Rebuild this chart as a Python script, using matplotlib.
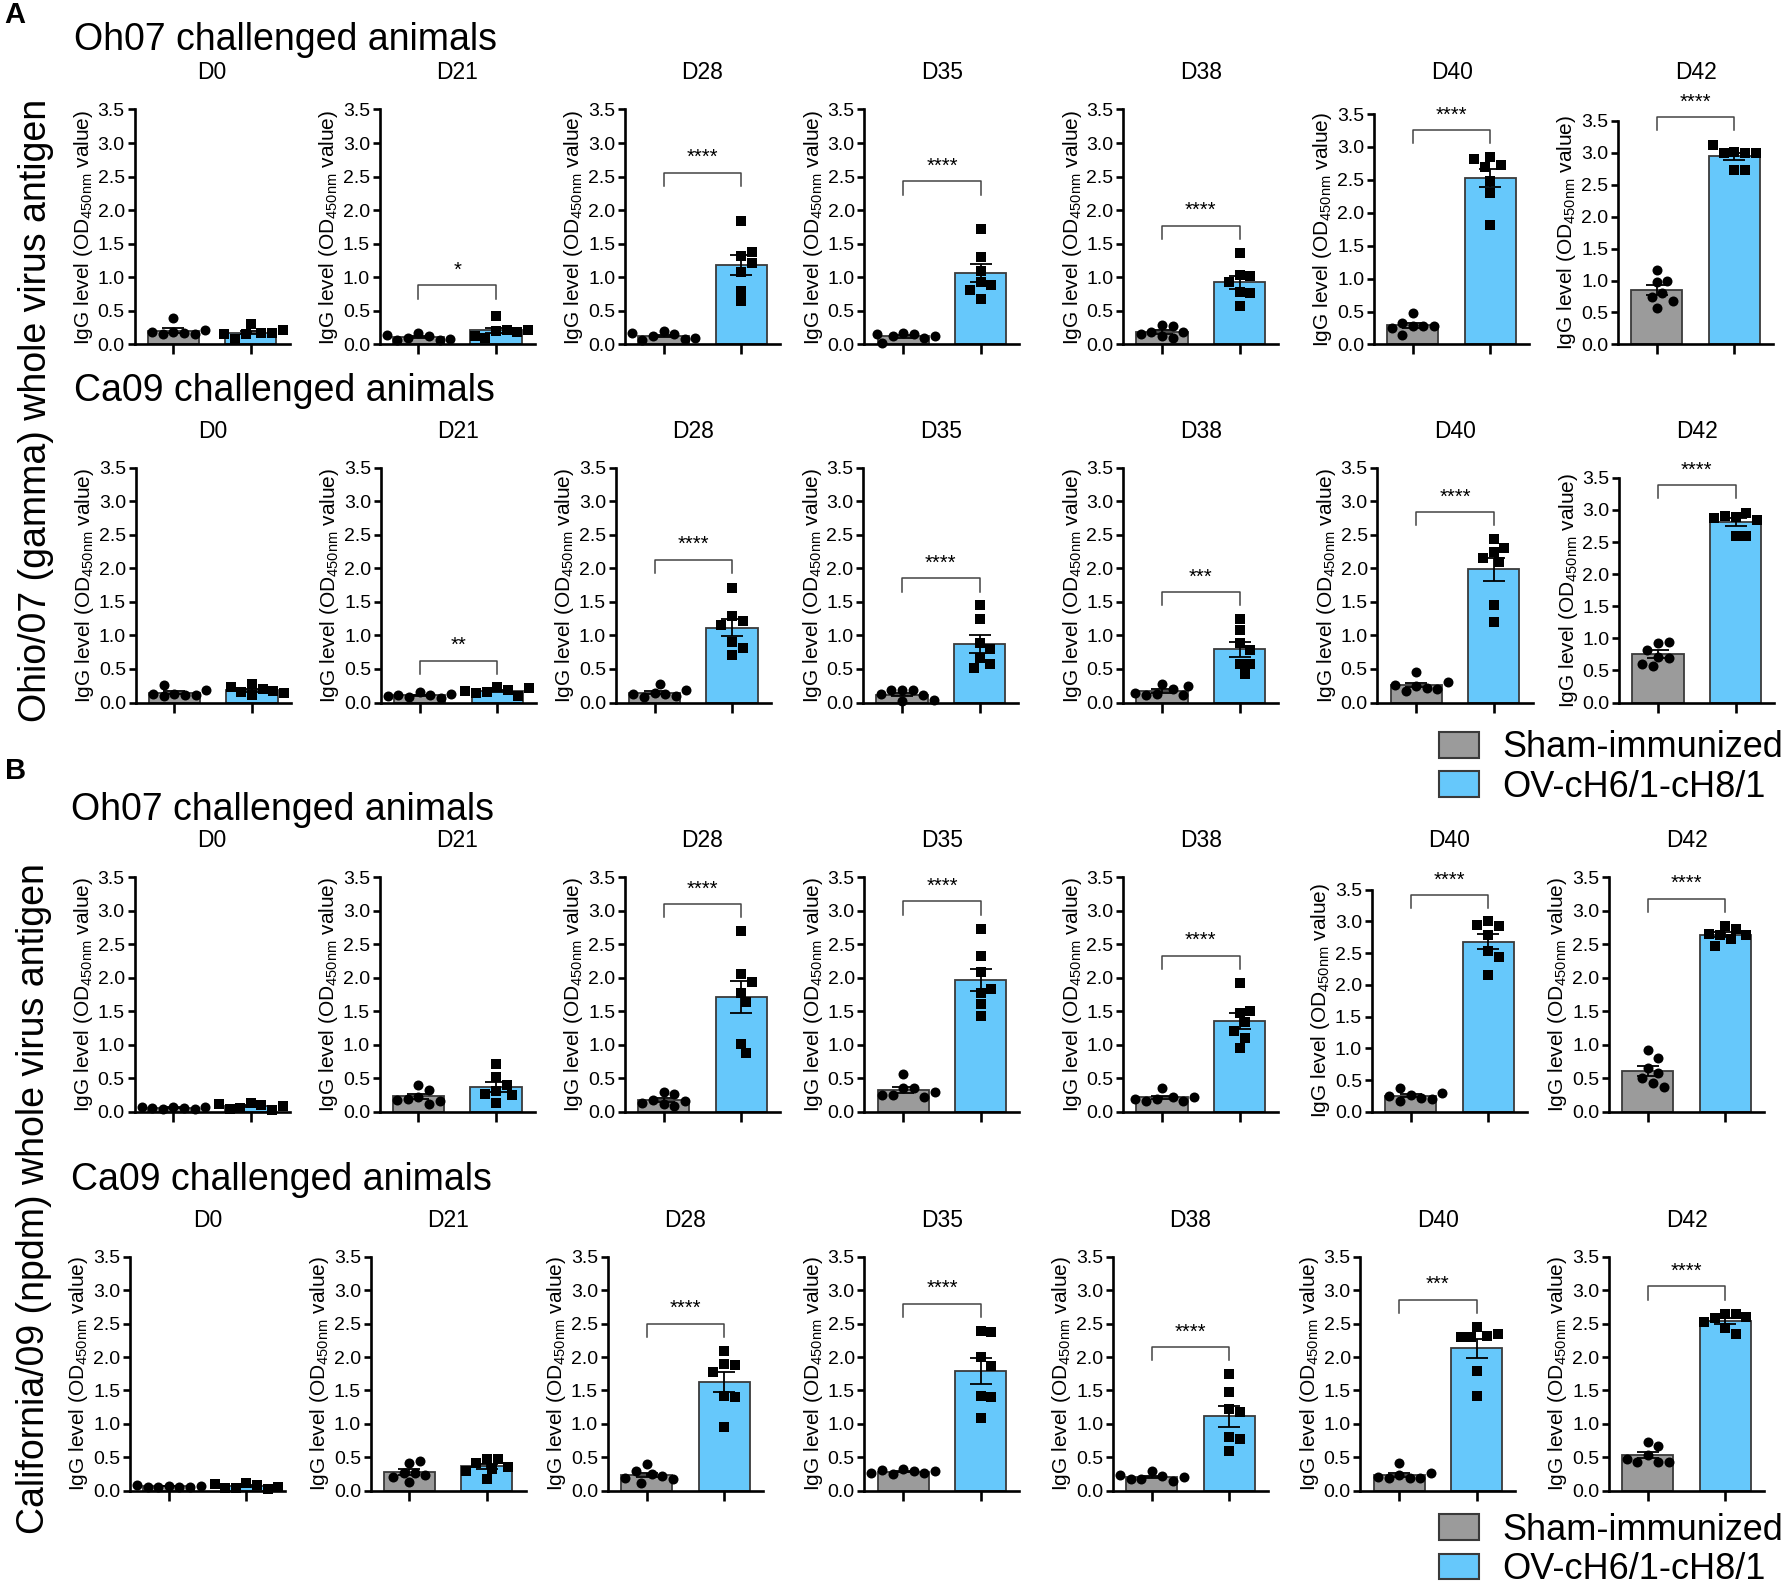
import numpy as np
import matplotlib
matplotlib.use('Agg')
import matplotlib.pyplot as plt
from matplotlib.patches import Patch

plt.rcParams['font.family'] = ['Liberation Sans', 'DejaVu Sans']
plt.rcParams['mathtext.fontset'] = 'custom'
plt.rcParams['mathtext.rm'] = 'Liberation Sans'
plt.rcParams['mathtext.default'] = 'regular'

days = ['D0', 'D21', 'D28', 'D35', 'D38', 'D40', 'D42']
groups = ['Sham-immunized', 'OV-cH6/1-cH8/1']
row_titles = ['Oh07 challenged animals', 'Ca09 challenged animals',
              'Oh07 challenged animals', 'Ca09 challenged animals']
antigen_labels = ['Ohio/07 (gamma) whole virus antigen',
                  'California/09 (npdm) whole virus antigen']

# A: Ohio/07 antigen, Oh07 challenged
a_oh07_sham = [[0.19, 0.17, 0.15, 0.40, 0.15, 0.18, 0.21],
               [0.17, 0.13, 0.09, 0.07, 0.07, 0.08, 0.14],
               [0.20, 0.15, 0.12, 0.08, 0.06, 0.10, 0.17],
               [0.17, 0.15, 0.13, 0.10, 0.02, 0.12, 0.16],
               [0.29, 0.27, 0.18, 0.12, 0.18, 0.15, 0.10],
               [0.47, 0.28, 0.28, 0.33, 0.28, 0.15, 0.25],
               [1.16, 0.97, 0.99, 0.81, 0.74, 0.68, 0.57]]
a_oh07_vacc = [[0.30, 0.17, 0.16, 0.08, 0.17, 0.15, 0.21],
               [0.42, 0.20, 0.22, 0.10, 0.19, 0.13, 0.22],
               [1.84, 1.32, 1.37, 1.21, 1.08, 0.80, 0.64],
               [1.72, 1.30, 1.10, 0.93, 0.88, 0.81, 0.68],
               [1.36, 1.04, 1.02, 0.93, 0.78, 0.76, 0.57],
               [2.85, 2.73, 2.70, 2.82, 2.49, 2.30, 1.81],
               [3.01, 3.00, 3.00, 3.00, 3.13, 2.73, 2.73]]
a_oh07_stars = ['', '*', '****', '****', '****', '****', '****']
a_oh07_bracket = [None, 0.88, 2.56, 2.43, 1.77, 3.26, 3.56]

# A: Ohio/07 antigen, Ca09 challenged
a_ca09_sham = [[0.13, 0.11, 0.26, 0.10, 0.11, 0.13, 0.18],
               [0.15, 0.115, 0.085, 0.065, 0.11, 0.125, 0.10],
               [0.135, 0.125, 0.27, 0.085, 0.095, 0.125, 0.185],
               [0.18, 0.18, 0.18, 0.11, 0.12, 0.02, 0.04],
               [0.27, 0.20, 0.12, 0.11, 0.11, 0.14, 0.25],
               [0.25, 0.21, 0.45, 0.17, 0.20, 0.26, 0.30],
               [0.93, 0.95, 0.82, 0.71, 0.70, 0.57, 0.60]]
a_ca09_vacc = [[0.275, 0.20, 0.15, 0.11, 0.175, 0.235, 0.14],
               [0.225, 0.185, 0.15, 0.10, 0.14, 0.215, 0.175],
               [1.71, 1.29, 1.22, 1.16, 0.90, 0.82, 0.71],
               [1.46, 1.24, 0.89, 0.80, 0.66, 0.58, 0.51],
               [1.25, 1.08, 0.88, 0.78, 0.58, 0.57, 0.43],
               [2.44, 2.24, 2.30, 2.15, 2.10, 1.45, 1.20],
               [2.89, 2.95, 2.91, 2.85, 2.88, 2.60, 2.60]]
a_ca09_stars = ['', '**', '****', '****', '***', '****', '****']
a_ca09_bracket = [None, 0.625, 2.13, 1.85, 1.65, 2.84, 3.39]

# B: California/09 antigen, Oh07 challenged
b_oh07_sham = [[0.08, 0.06, 0.05, 0.05, 0.06, 0.07, 0.08],
               [0.40, 0.23, 0.33, 0.20, 0.12, 0.17, 0.18],
               [0.30, 0.27, 0.18, 0.16, 0.12, 0.09, 0.14],
               [0.57, 0.35, 0.36, 0.25, 0.23, 0.26, 0.30],
               [0.35, 0.22, 0.20, 0.17, 0.16, 0.20, 0.22],
               [0.26, 0.22, 0.37, 0.17, 0.21, 0.25, 0.30],
               [0.92, 0.80, 0.65, 0.58, 0.50, 0.43, 0.37]]
b_oh07_vacc = [[0.14, 0.10, 0.06, 0.03, 0.05, 0.09, 0.12],
               [0.71, 0.52, 0.40, 0.32, 0.27, 0.25, 0.13],
               [2.69, 2.05, 1.93, 1.78, 1.64, 1.02, 0.88],
               [2.72, 2.33, 2.08, 1.78, 1.83, 1.61, 1.43],
               [1.92, 1.48, 1.51, 1.34, 1.21, 1.10, 0.96],
               [3.00, 2.92, 2.95, 2.78, 2.53, 2.44, 2.16],
               [2.77, 2.73, 2.63, 2.65, 2.58, 2.63, 2.48]]
b_oh07_stars = ['', '', '****', '****', '****', '****', '****']
b_oh07_bracket = [None, None, 3.10, 3.14, 2.33, 3.41, 3.18]

# B: California/09 antigen, Ca09 challenged
b_ca09_sham = [[0.07, 0.06, 0.06, 0.06, 0.06, 0.07, 0.08],
               [0.41, 0.44, 0.27, 0.27, 0.24, 0.13, 0.20],
               [0.40, 0.25, 0.29, 0.22, 0.19, 0.12, 0.17],
               [0.32, 0.29, 0.25, 0.26, 0.31, 0.30, 0.27],
               [0.30, 0.22, 0.18, 0.15, 0.17, 0.20, 0.23],
               [0.41, 0.24, 0.19, 0.19, 0.19, 0.20, 0.26],
               [0.73, 0.67, 0.54, 0.43, 0.43, 0.43, 0.47]]
b_ca09_vacc = [[0.12, 0.08, 0.04, 0.03, 0.04, 0.05, 0.10],
               [0.48, 0.48, 0.41, 0.36, 0.33, 0.29, 0.18],
               [2.09, 1.90, 1.88, 1.78, 1.41, 1.40, 0.95],
               [2.39, 2.37, 2.00, 1.87, 1.41, 1.40, 1.09],
               [1.74, 1.48, 1.22, 1.17, 0.81, 0.77, 0.59],
               [2.45, 2.32, 2.30, 2.30, 2.34, 1.79, 1.42],
               [2.65, 2.65, 2.58, 2.60, 2.52, 2.44, 2.34]]
b_ca09_stars = ['', '', '****', '****', '****', '***', '****']
b_ca09_bracket = [None, None, 2.50, 2.80, 2.15, 2.86, 3.06]

rows_sham = [a_oh07_sham, a_ca09_sham, b_oh07_sham, b_ca09_sham]
rows_vacc = [a_oh07_vacc, a_ca09_vacc, b_oh07_vacc, b_ca09_vacc]
rows_stars = [a_oh07_stars, a_ca09_stars, b_oh07_stars, b_ca09_stars]
rows_bracket = [a_oh07_bracket, a_ca09_bracket, b_oh07_bracket, b_ca09_bracket]

# layout, in reference pixel units (1568 x 1395 grid)
W, H = 1568.0, 1395.0
panel_left = [[118, 333, 548, 758, 985, 1205, 1419],
              [119, 334, 540, 757, 985, 1208, 1420],
              [118, 333, 548, 758, 985, 1203, 1411],
              [114, 325, 533, 758, 976, 1193, 1411]]
panel_zero = [302, 616, 975, 1307]
panel_top = [[96, 96, 96, 96, 96, 100, 106],
             [410, 410, 410, 410, 410, 410, 419],
             [769, 769, 769, 769, 769, 780, 769],
             [1102, 1102, 1102, 1102, 1102, 1102, 1102]]
panel_w = 136
day_title_y = [64, 378, 737, 1070]
row_title_y = [35, 343, 710, 1035]
row_title_x = [65, 65, 62, 62]

gray = '#9b9b9b'
blue = '#66c8fb'
edge = '#3a3a3a'
ms = 7.2

fig = plt.figure(figsize=(17.88, 15.91), dpi=100)
fig_w_px, fig_h_px = 1788.0, 1591.0


# simple beeswarm spread so points do not sit on top of each other
def swarm(vals, center, ppx, ppy, d=10.6):
    placed = []
    xs = []
    cands = [0]
    for j in range(1, 30):
        cands += [j, -j]
    for v in vals:
        y = v * ppy
        x = 0
        for c in cands:
            x = c * d * 0.5
            if all((x - a) ** 2 + (y - b) ** 2 >= (d * 0.97) ** 2 for a, b in placed):
                break
        placed.append((x, y))
        xs.append(center + x / ppx)
    return xs


for r in range(4):
    for c in range(7):
        top = panel_top[r][c]
        ax = fig.add_axes([panel_left[r][c] / W, 1 - panel_zero[r] / H,
                           panel_w / W, (panel_zero[r] - top) / H])
        ppx = panel_w / W * fig_w_px / 2.0
        ppy = (panel_zero[r] - top) / H * fig_h_px / 3.5

        sham = np.array(rows_sham[r][c])
        vacc = np.array(rows_vacc[r][c])
        means = [sham.mean(), vacc.mean()]
        sems = [sham.std(ddof=1) / np.sqrt(len(sham)),
                vacc.std(ddof=1) / np.sqrt(len(vacc))]

        ax.bar([0, 1], means, width=0.66, color=[gray, blue],
               edgecolor=edge, linewidth=1.3, zorder=1)
        ax.scatter(swarm(sham, 0, ppx, ppy), sham, marker='o', s=ms ** 2,
                   color='black', linewidths=0, zorder=3, clip_on=False)
        ax.scatter(swarm(vacc, 1, ppx, ppy), vacc, marker='s', s=(ms * 0.92) ** 2,
                   color='black', linewidths=0, zorder=3, clip_on=False)
        ax.errorbar([0, 1], means, yerr=sems, fmt='none', ecolor='black',
                    elinewidth=1.3, capsize=8, capthick=1.3, zorder=4)

        b = rows_bracket[r][c]
        if b is not None:
            ax.plot([0, 0, 1, 1], [b - 0.2, b, b, b - 0.2], color='#444444',
                    lw=1.1, clip_on=False, zorder=2)
            ax.text(0.5, b + 0.08, rows_stars[r][c], ha='center', va='bottom',
                    fontsize=14.5, clip_on=False)

        ax.set_xlim(-0.5, 1.5)
        ax.set_ylim(0, 3.5)
        ax.set_xticks([0, 1])
        ax.set_xticklabels([])
        ax.set_yticks(np.arange(0, 3.51, 0.5))
        ax.set_yticklabels(['%.1f' % t for t in np.arange(0, 3.51, 0.5)])
        for s in ['top', 'right']:
            ax.spines[s].set_visible(False)
        for s in ['left', 'bottom']:
            ax.spines[s].set_linewidth(1.9)
        ax.tick_params(axis='x', length=7, width=1.9, direction='out')
        ax.tick_params(axis='y', length=5, width=1.9, direction='out',
                       labelsize=14, pad=2)
        ax.set_ylabel(r'IgG level (OD$_{450nm}$ value)', fontsize=15, labelpad=2)

        fig.text((panel_left[r][c] + panel_w / 2) / W, 1 - day_title_y[r] / H,
                 days[c], ha='center', va='center', fontsize=16.5,
                 family=['Liberation Sans Narrow', 'Liberation Sans'])

    fig.text(row_title_x[r] / W, 1 - row_title_y[r] / H, row_titles[r],
             ha='left', va='center', fontsize=27)

fig.text(4 / W, 1 - 13 / H, 'A', ha='left', va='center', fontsize=21, weight='bold')
fig.text(4 / W, 1 - 676 / H, 'B', ha='left', va='center', fontsize=21, weight='bold')
fig.text(32 / W, 1 - 360 / H, antigen_labels[0], rotation=90,
         ha='center', va='center', fontsize=27)
fig.text(30 / W, 1 - 1051 / H, antigen_labels[1], rotation=90,
         ha='center', va='center', fontsize=27)

for ly in [673, 1359]:
    handles = [Patch(facecolor=gray, edgecolor=edge, linewidth=1.5),
               Patch(facecolor=blue, edgecolor=edge, linewidth=1.5)]
    fig.legend(handles=handles, labels=groups, loc='center left',
               bbox_to_anchor=(1262 / W, 1 - ly / H), fontsize=26, frameon=False,
               handlelength=1.1, handleheight=0.72, handletextpad=0.66,
               labelspacing=0.12, borderpad=0, borderaxespad=0)

fig.savefig('out.png', dpi=100)
